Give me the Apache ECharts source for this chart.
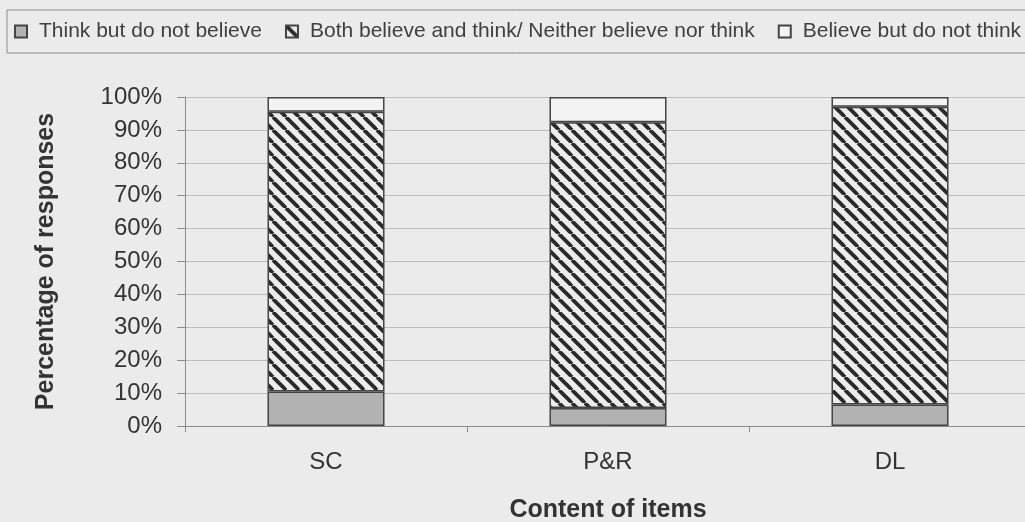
<!DOCTYPE html>
<html>
<head>
<meta charset="utf-8">
<script src="https://cdn.jsdelivr.net/npm/echarts@6/dist/echarts.min.js"></script>
<style>
  html, body { margin: 0; padding: 0; background: #ebebeb; }
  #chart { width: 1025px; height: 522px; }
</style>
</head>
<body>
<div id="chart"></div>
<script>
// data (percent of responses)
const categories = ['SC', 'P&R', 'DL'];
const thinkNotBelieve = [10.5, 5.5, 6.5];
const bothOrNeither = [85.0, 86.8, 90.5];
const believeNotThink = [4.5, 7.7, 3.0];
const seriesNames = [
  'Think but do not believe',
  'Both believe and think/ Neither believe nor think',
  'Believe but do not think'
];

// diagonal hatch for the middle segment
function makeHatch() {
  const s = 13;
  const c = document.createElement('canvas');
  c.width = s;
  c.height = s;
  const ctx = c.getContext('2d');
  ctx.fillStyle = '#ececec';
  ctx.fillRect(0, 0, s, s);
  ctx.strokeStyle = '#2a2a2a';
  ctx.lineWidth = 3.8;
  for (let x0 = -s; x0 <= s; x0 += s) {
    ctx.beginPath();
    ctx.moveTo(x0, 0);
    ctx.lineTo(x0 + s, s);
    ctx.stroke();
  }
  return c;
}

const chart = echarts.init(document.getElementById('chart'));
const font = 'Liberation Sans, Arial, sans-serif';
const barBorder = { borderColor: '#444', borderWidth: 1.5 };

chart.setOption({
  backgroundColor: '#ebebeb',
  animation: false,
  textStyle: { fontFamily: font },
  legend: {
    left: 7,
    top: 10,
    width: 1200,
    padding: [11, 10, 11, 7],
    borderColor: '#8a8a8a',
    borderWidth: 1,
    itemWidth: 12,
    itemHeight: 12,
    itemGap: 23,
    selectedMode: false,
    icon: 'rect',
    textStyle: { fontSize: 21, color: '#404040', fontFamily: font, padding: [0, 0, 0, 7] },
    data: seriesNames
  },
  grid: {
    left: 185,
    top: 97,
    width: 846,
    height: 329,
    outerBoundsMode: 'none'
  },
  xAxis: {
    type: 'category',
    data: categories,
    name: 'Content of items',
    nameLocation: 'middle',
    nameGap: 72,
    nameTextStyle: { fontSize: 25, fontWeight: 'bold', color: '#333', fontFamily: font },
    axisLine: { lineStyle: { color: '#8a8a8a', width: 1 } },
    axisTick: { show: true, length: 6, lineStyle: { color: '#8a8a8a' } },
    axisLabel: { fontSize: 24, color: '#333', margin: 24, fontFamily: font }
  },
  yAxis: {
    type: 'value',
    min: 0,
    max: 100,
    interval: 10,
    name: 'Percentage of responses',
    nameLocation: 'middle',
    nameGap: 126,
    nameTextStyle: { fontSize: 25, fontWeight: 'bold', color: '#333', fontFamily: font },
    axisLine: { show: true, lineStyle: { color: '#8a8a8a', width: 1 } },
    axisTick: { show: true, length: 8, lineStyle: { color: '#8a8a8a' } },
    axisLabel: { fontSize: 24, color: '#333', margin: 23, formatter: '{value}%', fontFamily: font },
    splitLine: { lineStyle: { color: '#bdbdbd', width: 1 } }
  },
  series: [
    {
      name: seriesNames[0],
      type: 'bar',
      stack: 'total',
      barWidth: '41.5%',
      data: thinkNotBelieve,
      itemStyle: Object.assign({ color: '#b2b2b2' }, barBorder)
    },
    {
      name: seriesNames[1],
      type: 'bar',
      stack: 'total',
      data: bothOrNeither,
      itemStyle: Object.assign({ color: { image: makeHatch(), repeat: 'repeat' } }, barBorder)
    },
    {
      name: seriesNames[2],
      type: 'bar',
      stack: 'total',
      data: believeNotThink,
      itemStyle: Object.assign({ color: '#f3f3f3' }, barBorder)
    }
  ]
});
</script>
</body>
</html>
